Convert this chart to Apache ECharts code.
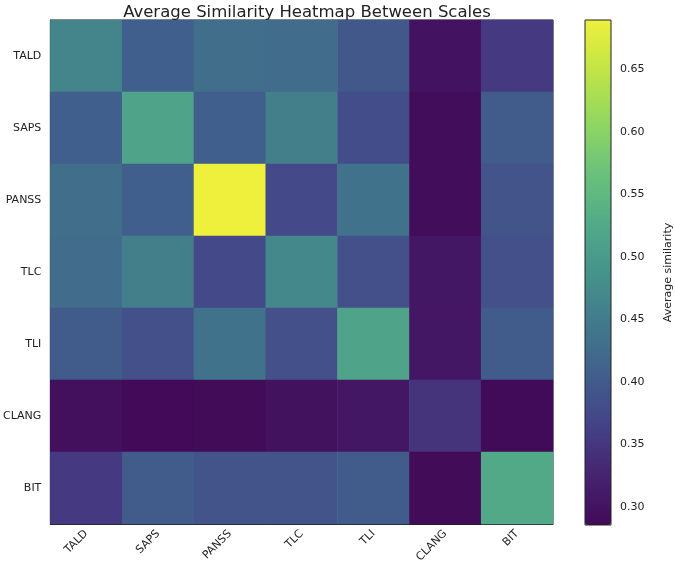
<!DOCTYPE html>
<html>
<head>
<meta charset="utf-8">
<script src="https://cdn.jsdelivr.net/npm/echarts@6/dist/echarts.min.js"></script>
<style>
  html, body { margin: 0; padding: 0; background: #fff; }
  #main { width: 675px; height: 568px; }
</style>
</head>
<body>
<div id="main"></div>
<script>
// scales on both axes
var scales = ['TALD', 'SAPS', 'PANSS', 'TLC', 'TLI', 'CLANG', 'BIT'];

// average similarity, one row per scale
var rowTALD  = [0.465, 0.405, 0.430, 0.425, 0.395, 0.300, 0.355];
var rowSAPS  = [0.405, 0.515, 0.405, 0.455, 0.380, 0.290, 0.400];
var rowPANSS = [0.430, 0.405, 0.6895, 0.375, 0.435, 0.290, 0.390];
var rowTLC   = [0.425, 0.455, 0.375, 0.470, 0.385, 0.305, 0.385];
var rowTLI   = [0.400, 0.385, 0.435, 0.385, 0.515, 0.305, 0.400];
var rowCLANG = [0.295, 0.2855, 0.288, 0.298, 0.305, 0.345, 0.287];
var rowBIT   = [0.355, 0.400, 0.390, 0.390, 0.400, 0.288, 0.525];
var rows = [rowTALD, rowSAPS, rowPANSS, rowTLC, rowTLI, rowCLANG, rowBIT];

// colorbar range and ticks
var vMin = 0.2855, vMax = 0.6895;
var cbTicks = [0.30, 0.35, 0.40, 0.45, 0.50, 0.55, 0.60, 0.65];

// viridis as it looks in the picture (a bit paler than the stock one)
var palette = ['#420a58', '#462470', '#444388', '#41608c', '#417a8b', '#46938b',
               '#52ab88', '#6cc27a', '#92d760', '#c1e446', '#eef03c'];

var data = [];
for (var i = 0; i < rows.length; i++) {
    for (var j = 0; j < rows[i].length; j++) {
        data.push([j, i, rows[i][j]]);
    }
}

var chart = echarts.init(document.getElementById('main'));
var txt = '#222';
var option = {
    animation: false,
    title: {
        text: 'Average Similarity Heatmap Between Scales',
        left: 302, top: -1, textAlign: 'center',
        textStyle: { fontSize: 16.5, fontWeight: 'normal', color: txt, fontFamily: 'DejaVu Sans' }
    },
    grid: [
        { left: 49, top: 20, width: 504, height: 504, show: true, borderColor: txt, borderWidth: 1, backgroundColor: 'transparent' },
        { left: 585, top: 20, width: 26, height: 505, show: true, borderColor: txt, borderWidth: 1, backgroundColor: 'transparent', z: 10 }
    ],
    xAxis: [
        {
            type: 'category', data: scales, gridIndex: 0,
            axisLine: { lineStyle: { color: txt } },
            axisTick: { alignWithLabel: true, length: 4, lineStyle: { color: txt } },
            axisLabel: { rotate: 45, fontSize: 11, color: txt, margin: 8, fontFamily: 'DejaVu Sans' },
            splitLine: { show: false }
        },
        { type: 'value', gridIndex: 1, show: false }
    ],
    yAxis: [
        {
            type: 'category', data: scales, inverse: true, gridIndex: 0,
            axisLine: { lineStyle: { color: txt } },
            axisTick: { alignWithLabel: true, length: 4, lineStyle: { color: txt } },
            axisLabel: { fontSize: 11, color: txt, margin: 9, fontFamily: 'DejaVu Sans' },
            splitLine: { show: false }
        },
        {
            type: 'value', gridIndex: 1, position: 'right', min: vMin, max: vMax,
            name: 'Average similarity', nameLocation: 'middle', nameGap: 52, nameRotate: 90,
            nameTextStyle: { fontSize: 11, color: txt, fontFamily: 'DejaVu Sans' },
            axisLine: { show: false },
            axisTick: { show: true, length: 4, customValues: cbTicks, lineStyle: { color: txt } },
            axisLabel: {
                fontSize: 11, color: txt, margin: 9, fontFamily: 'DejaVu Sans',
                customValues: cbTicks,
                formatter: function (v) { return v.toFixed(2); }
            },
            splitLine: { show: false }
        }
    ],
    visualMap: {
        type: 'continuous', min: vMin, max: vMax, seriesIndex: 0,
        calculable: false, orient: 'vertical', left: 585, top: 20, padding: 0,
        itemWidth: 26, itemHeight: 505, text: null, showLabel: false,
        inRange: { color: palette }
    },
    series: [{
        type: 'heatmap', xAxisIndex: 0, yAxisIndex: 0, data: data,
        itemStyle: { borderWidth: 0 },
        emphasis: { disabled: true }
    }]
};
chart.setOption(option);
</script>
</body>
</html>
